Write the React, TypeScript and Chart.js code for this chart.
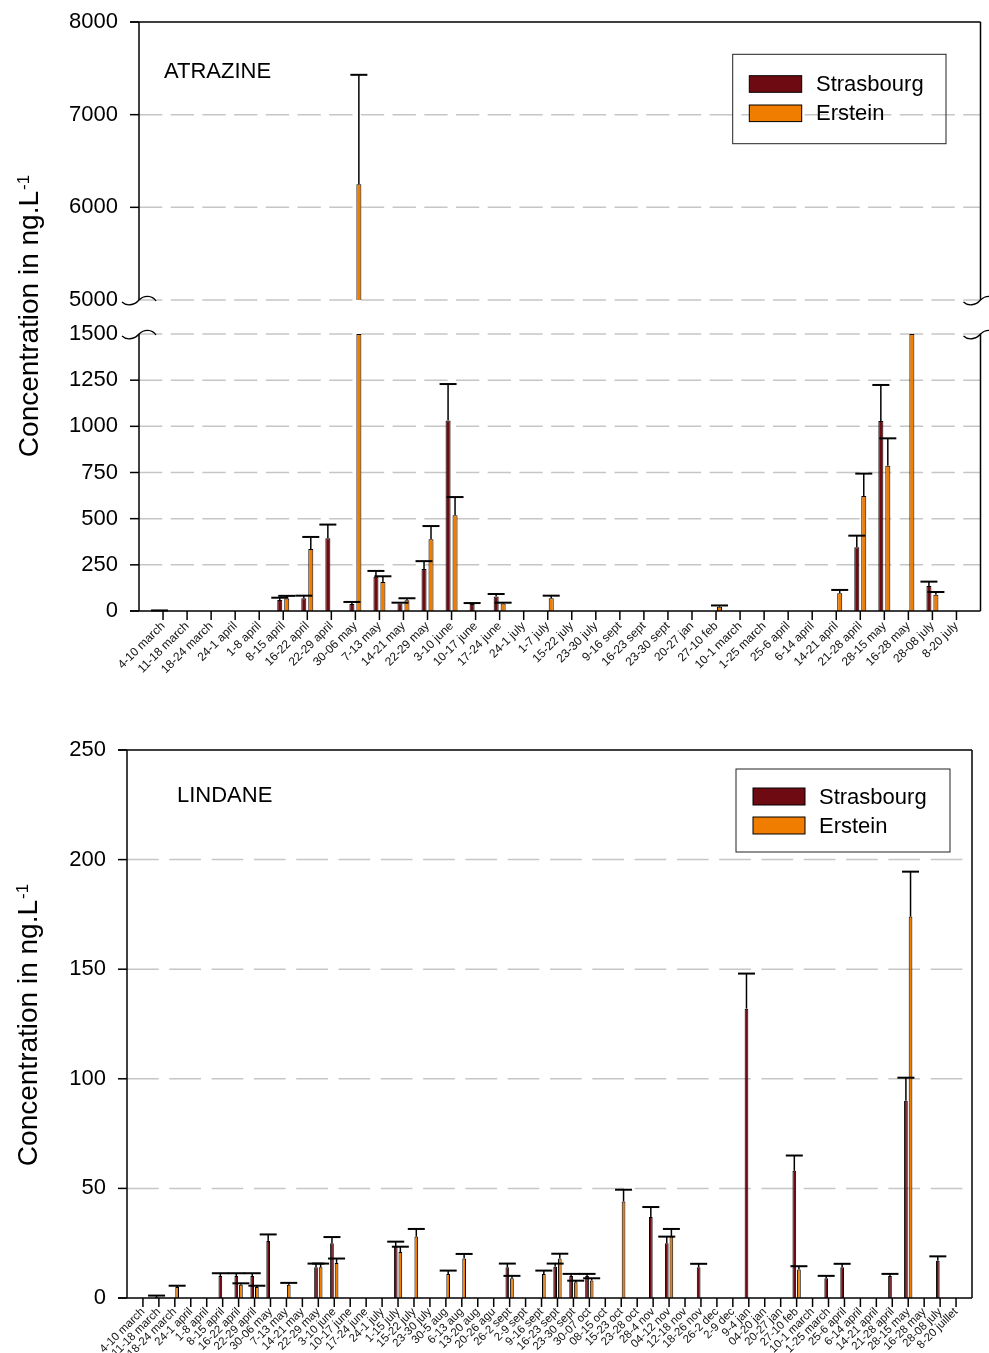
import React, { useEffect, useRef } from 'react';
import { Chart, registerables } from 'chart.js';

Chart.register(...registerables);

const FONT = '"Liberation Sans", Arial, Helvetica, sans-serif';
const STRASBOURG_COLOR = '#6e0a12';
const ERSTEIN_COLOR = '#f07d00';
const GRID_COLOR = '#c6c6c6';

// ---------------- ATRAZINE ----------------
const atrazineLabels = [
  '4-10 march', '11-18 march', '18-24 march', '24-1 april', '1-8 april', '8-15 april', '16-22 april', '22-29 april', '30-06 may', '7-13 may',
  '14-21 may', '22-29 may', '3-10 june', '10-17 june', '17-24 june', '24-1 july', '1-7 july', '15-22 july', '23-30 july', '9-16 sept',
  '16-23 sept', '23-30 sept', '20-27 jan', '27-10 feb', '10-1 march', '1-25 march', '25-6 april', '6-14 april', '14-21 april', '21-28 april',
  '28-15 may', '16-28 may', '28-08 july', '8-20 july',
];
const atrazineStrasbourg = [
  1, null, null, null, null, 60, 69, 394, 38, 186,
  40, 227, 1032, 38, 78, null, null, null, null, null,
  null, null, null, null, null, null, null, null, null, 345,
  1029, null, 135, null,
];
const atrazineStrasbourgErr = [
  2, null, null, null, null, 12, 14, 74, 11, 31,
  5, 43, 197, 5, 14, null, null, null, null, null,
  null, null, null, null, null, null, null, null, null, 63,
  195, null, 24, null,
];
const atrazineErstein = [
  null, null, null, null, null, 68, 336, null, 6250, 157,
  58, 388, 518, null, 40, null, 69, null, null, null,
  null, null, null, 23, null, null, null, null, 96, 623,
  787, 2000, 88, null,
];
const atrazineErsteinErr = [
  null, null, null, null, null, 14, 65, null, 1180, 31,
  11, 72, 99, null, 5, null, 14, null, null, null,
  null, null, null, 7, null, null, null, null, 18, 121,
  148, null, 15, null,
];
const atrazineLowTicks = [0, 250, 500, 750, 1000, 1250, 1500];
const atrazineHighTicks = [5000, 6000, 7000, 8000];

// ---------------- LINDANE ----------------
const lindaneLabels = [
  '4-10 march', '11-18 march', '18-24 march', '24-1 april', '1-8 april', '8-15 april', '16-22 april', '22-29 april', '30-06 may', '7-13 may',
  '14-21 may', '22-29 may', '3-10 june', '10-17 june', '17-24 june', '24-1 july', '1-15 july', '15-22 july', '23-30 july', '30-5 aug',
  '6-13 aug', '13-20 aug', '20-26 agu', '26-2 sept', '2-9 sept', '9-16 sept', '16-23 sept', '23-30 sept', '30-07 oct', '08-15 oct',
  '15-23 oct', '23-28 oct', '28-4 nov', '04-12 nov', '12-18 nov', '18-26 nov', '26-2 dec', '2-9 dec', '9-4 jan', '04-20 jan',
  '20-27 jan', '27-10 feb', '10-1 march', '1-25 march', '25-6 april', '6-14 april', '14-21 april', '21-28 april', '28-15 may', '16-28 may',
  '28-08 july', '8-20 juillet',
];
const lindaneStrasbourg = [
  null, 0.5, null, null, null, 10, 10, 10, 26, null,
  null, 14, 25, null, null, null, 23.4, null, null, null,
  null, null, null, 14, null, null, 14.3, 10, 10, null,
  null, null, 37, 25, null, 14, null, null, 132, null,
  null, 58, null, 9, 14, null, null, 10, 90, null,
  17, null,
];
const lindaneStrasbourgErr = [
  null, 0.6, null, null, null, 1.3, 1.3, 1.3, 3, null,
  null, 1.7, 2.8, null, null, null, 2.3, null, null, null,
  null, null, null, 1.7, null, null, 1.4, 1, 1, null,
  null, null, 4.5, 3, null, 1.6, null, null, 16, null,
  null, 7, null, 1.1, 1.6, null, null, 1, 10.5, null,
  2, null,
];
const lindaneErstein = [
  null, null, 5, null, null, null, 6, 5, null, 6,
  null, 14, 16, null, null, null, 21, 28, null, 11,
  18, null, null, 9, null, 11, 18, 7.2, 8, null,
  44, null, null, 28, null, null, null, null, null, null,
  null, 13, null, null, null, null, null, null, 174, null,
  null, null,
];
const lindaneErsteinErr = [
  null, null, 0.6, null, null, null, 0.7, 0.6, null, 0.9,
  null, 1.7, 2, null, null, null, 2.4, 3.5, null, 1.5,
  2.1, null, null, 1.1, null, 1.5, 2.2, 0.7, 1, null,
  5.4, null, null, 3.5, null, null, null, null, null, null,
  null, 1.5, null, null, null, null, null, null, 20.5, null,
  null, null,
];
const lindaneTicks = [0, 50, 100, 150, 200, 250];

// ---------------- helpers ----------------
type Series = { label: string; color: string; values: (number | null)[]; errors: (number | null)[] };
type AxisVal = { axis: string; value: number };
type Panel = {
  name: string;
  series: Series[];
  pick: (v: number, si: number) => { axis: string; ds: number } | null;
  grid: AxisVal[];
  ticks: AxisVal[];
  segments: { axis: string; from: number; to: number }[];
  breaks: AxisVal[];
  top: AxisVal;
  bottom: AxisVal;
  gridDash: number[];
  namePos: { dx: number; dy: number };
  legend: { dxRight: number; dy: number; w: number; h: number; swX: number; swW: number; swH: number; rows: number[]; textX: number };
  yTitle: { x: number; y: number };
};

const pad = <T,>(arr: T[]): (T | null)[] => [null, ...arr, null];

function tilde(ctx: CanvasRenderingContext2D, x: number, y: number) {
  ctx.beginPath();
  ctx.moveTo(x - 17, y + 2);
  ctx.bezierCurveTo(x - 13, y + 6, x - 5, y + 6, x, y);
  ctx.bezierCurveTo(x + 5, y - 5, x + 13, y - 5, x + 17, y + 1);
  ctx.stroke();
}

function makeDecor(p: Panel) {
  return {
    id: 'decor',
    beforeDatasetsDraw(chart: any) {
      const ctx: CanvasRenderingContext2D = chart.ctx;
      const { left, right } = chart.chartArea;
      ctx.save();
      ctx.strokeStyle = GRID_COLOR;
      ctx.lineWidth = 1.5;
      ctx.setLineDash(p.gridDash);
      for (const g of p.grid) {
        const y = chart.scales[g.axis].getPixelForValue(g.value);
        ctx.beginPath();
        ctx.moveTo(left, y);
        ctx.lineTo(right, y);
        ctx.stroke();
      }
      ctx.restore();
    },
    afterDatasetsDraw(chart: any) {
      const ctx: CanvasRenderingContext2D = chart.ctx;
      const { left, right } = chart.chartArea;
      const xs = chart.scales.x;
      ctx.save();
      ctx.strokeStyle = '#000';
      ctx.lineCap = 'butt';
      // error bars
      p.series.forEach((s, si) => {
        s.values.forEach((v, j) => {
          const e = s.errors[j];
          if (v == null || e == null) return;
          const sel = p.pick(v, si);
          if (!sel) return;
          const el = chart.getDatasetMeta(sel.ds).data[j + 1];
          if (!el) return;
          const sc = chart.scales[sel.axis];
          const y0 = sc.getPixelForValue(v);
          const y1 = sc.getPixelForValue(v + e);
          ctx.lineWidth = 1.5;
          ctx.beginPath();
          ctx.moveTo(el.x, y0);
          ctx.lineTo(el.x, y1);
          ctx.stroke();
          ctx.lineWidth = 2;
          ctx.beginPath();
          ctx.moveTo(el.x - 8.5, y1);
          ctx.lineTo(el.x + 8.5, y1);
          ctx.stroke();
        });
      });
      // frame
      ctx.lineWidth = 1.5;
      for (const sg of p.segments) {
        const sc = chart.scales[sg.axis];
        const ya = sc.getPixelForValue(sg.from);
        const yb = sc.getPixelForValue(sg.to);
        for (const x of [left, right]) {
          ctx.beginPath();
          ctx.moveTo(x, ya);
          ctx.lineTo(x, yb);
          ctx.stroke();
        }
      }
      const yTopLine = chart.scales[p.top.axis].getPixelForValue(p.top.value);
      const yBotLine = chart.scales[p.bottom.axis].getPixelForValue(p.bottom.value);
      ctx.beginPath();
      ctx.moveTo(left - 9, yTopLine);
      ctx.lineTo(right, yTopLine);
      ctx.moveTo(left - 9, yBotLine);
      ctx.lineTo(right, yBotLine);
      ctx.stroke();
      // y tick marks
      for (const t of p.ticks) {
        const y = chart.scales[t.axis].getPixelForValue(t.value);
        ctx.beginPath();
        ctx.moveTo(left - 9, y);
        ctx.lineTo(left, y);
        ctx.stroke();
      }
      // x tick marks
      const n = chart.data.labels.length;
      for (let j = 1; j < n - 1; j++) {
        const x = xs.getPixelForTick(j);
        ctx.beginPath();
        ctx.moveTo(x, yBotLine);
        ctx.lineTo(x, yBotLine + 9);
        ctx.stroke();
      }
      // axis breaks
      ctx.lineWidth = 1.3;
      for (const b of p.breaks) {
        const y = chart.scales[b.axis].getPixelForValue(b.value);
        tilde(ctx, left, y);
        tilde(ctx, right, y);
      }
      // panel name
      ctx.fillStyle = '#000';
      ctx.font = `22px ${FONT}`;
      ctx.textBaseline = 'middle';
      ctx.textAlign = 'left';
      ctx.fillText(p.name, left + p.namePos.dx, chart.chartArea.top + p.namePos.dy);
      // legend
      const L = p.legend;
      const bx = right - L.dxRight - L.w;
      const by = chart.chartArea.top + L.dy;
      ctx.lineWidth = 1;
      ctx.strokeStyle = '#222';
      ctx.strokeRect(bx, by, L.w, L.h);
      p.series.forEach((s, i) => {
        const sy = by + L.rows[i];
        ctx.fillStyle = s.color;
        ctx.fillRect(bx + L.swX, sy, L.swW, L.swH);
        ctx.strokeStyle = '#000';
        ctx.strokeRect(bx + L.swX, sy, L.swW, L.swH);
        ctx.fillStyle = '#000';
        ctx.font = `22px ${FONT}`;
        ctx.fillText(s.label, bx + L.textX, sy + L.swH / 2 + 1);
      });
      // y title with superscript
      const main = 'Concentration in ng.L';
      const sup = '-1';
      ctx.translate(p.yTitle.x, p.yTitle.y);
      ctx.rotate(-Math.PI / 2);
      ctx.textBaseline = 'alphabetic';
      ctx.font = `28px ${FONT}`;
      const wm = ctx.measureText(main).width;
      ctx.font = `17px ${FONT}`;
      const ws = ctx.measureText(sup).width;
      const x0 = -(wm + ws + 1) / 2;
      ctx.font = `28px ${FONT}`;
      ctx.fillText(main, x0, 0);
      ctx.font = `17px ${FONT}`;
      ctx.fillText(sup, x0 + wm + 1, -9);
      ctx.restore();
    },
  };
}

function barDataset(s: Series, data: any[], yAxisID: string, barPercentage: number) {
  return {
    label: s.label,
    data,
    yAxisID,
    stack: s.label,
    backgroundColor: s.color,
    borderColor: '#000',
    borderWidth: 1,
    categoryPercentage: 0.58,
    barPercentage,
  };
}

const xScale = (height: number, fontSize: number, padding: number) => ({
  type: 'category',
  offset: false,
  grid: { display: false, drawTicks: false },
  border: { display: false },
  ticks: {
    autoSkip: false,
    maxRotation: 45,
    minRotation: 45,
    padding,
    color: '#111',
    font: { family: FONT, size: fontSize },
  },
  afterFit: (s: any) => {
    s.height = height;
    s.paddingLeft = 0;
    s.paddingRight = 0;
  },
});

const yTicksOpts = {
  padding: 21,
  color: '#000',
  autoSkip: false,
  font: { family: FONT, size: 22 },
  callback: (v: any) => String(v),
};

const yFit = (width: number) => (s: any) => {
  s.width = width;
  s.paddingTop = 0;
  s.paddingBottom = 0;
};

function atrazineConfig(): any {
  const LOW_MAX = atrazineLowTicks[atrazineLowTicks.length - 1];
  const HIGH_MIN = atrazineHighTicks[0];
  const HIGH_MAX = atrazineHighTicks[atrazineHighTicks.length - 1];
  // pixel heights of the two parts of the broken axis and of the gap between
  const topPx = 278, botPx = 277, gapPx = 34;
  const series: Series[] = [
    { label: 'Strasbourg', color: STRASBOURG_COLOR, values: atrazineStrasbourg, errors: atrazineStrasbourgErr },
    { label: 'Erstein', color: ERSTEIN_COLOR, values: atrazineErstein, errors: atrazineErsteinErr },
  ];
  const low = (v: number | null) => (v == null ? null : Math.min(v, LOW_MAX));
  const high = (v: number | null) => (v != null && v > HIGH_MIN ? [HIGH_MIN, v] : null);
  const datasets = [
    ...series.map((s) => barDataset(s, pad(s.values.map(low)), 'yBot', 0.72)),
    ...series.map((s) => barDataset(s, pad(s.values.map(high)), 'yTop', 0.72)),
  ];
  const panel: Panel = {
    name: 'ATRAZINE',
    series,
    pick: (v, si) => (v > HIGH_MIN ? { axis: 'yTop', ds: 2 + si } : v <= LOW_MAX ? { axis: 'yBot', ds: si } : null),
    grid: [
      ...atrazineHighTicks.slice(0, -1).map((value) => ({ axis: 'yTop', value })),
      ...atrazineLowTicks.slice(1).map((value) => ({ axis: 'yBot', value })),
    ],
    ticks: [
      ...atrazineHighTicks.slice(1).map((value) => ({ axis: 'yTop', value })),
      ...atrazineLowTicks.slice(0, -1).map((value) => ({ axis: 'yBot', value })),
    ],
    segments: [
      { axis: 'yTop', from: HIGH_MIN, to: HIGH_MAX },
      { axis: 'yBot', from: 0, to: LOW_MAX },
    ],
    breaks: [
      { axis: 'yTop', value: HIGH_MIN },
      { axis: 'yBot', value: LOW_MAX },
    ],
    top: { axis: 'yTop', value: HIGH_MAX },
    bottom: { axis: 'yBot', value: 0 },
    gridDash: [23.3, 8.4],
    namePos: { dx: 25, dy: 50 },
    legend: { dxRight: 34.5, dy: 32.3, w: 213.3, h: 89.4, swX: 16.6, swW: 52.4, swH: 16.6, rows: [21.4, 50.7], textX: 83.3 },
    yTitle: { x: 38, y: 316 },
  };
  return {
    type: 'bar',
    data: { labels: ['', ...atrazineLabels, ''], datasets },
    plugins: [makeDecor(panel)],
    options: {
      responsive: false,
      animation: false,
      events: [],
      layout: { padding: { top: 22, right: 8.5, left: 0, bottom: 0 } },
      plugins: { legend: { display: false }, tooltip: { enabled: false } },
      scales: {
        x: xScale(79, 12, 8),
        yBot: {
          type: 'linear',
          position: 'left',
          stack: 'atr',
          stackWeight: botPx + gapPx / 2,
          weight: 0,
          stacked: false,
          min: 0,
          max: LOW_MAX + (LOW_MAX * (gapPx / 2)) / botPx,
          afterBuildTicks: (s: any) => { s.ticks = atrazineLowTicks.map((value) => ({ value })); },
          grid: { display: false, drawTicks: false },
          border: { display: false },
          ticks: yTicksOpts,
          afterFit: yFit(139),
        },
        yTop: {
          type: 'linear',
          position: 'left',
          stack: 'atr',
          stackWeight: topPx + gapPx / 2,
          weight: 1,
          stacked: false,
          min: HIGH_MIN - ((HIGH_MAX - HIGH_MIN) * (gapPx / 2)) / topPx,
          max: HIGH_MAX,
          afterBuildTicks: (s: any) => { s.ticks = atrazineHighTicks.map((value) => ({ value })); },
          grid: { display: false, drawTicks: false },
          border: { display: false },
          ticks: yTicksOpts,
          afterFit: yFit(139),
        },
      },
    },
  };
}

function lindaneConfig(): any {
  const MAX = lindaneTicks[lindaneTicks.length - 1];
  const series: Series[] = [
    { label: 'Strasbourg', color: STRASBOURG_COLOR, values: lindaneStrasbourg, errors: lindaneStrasbourgErr },
    { label: 'Erstein', color: ERSTEIN_COLOR, values: lindaneErstein, errors: lindaneErsteinErr },
  ];
  const datasets = series.map((s) => barDataset(s, pad(s.values), 'y', 0.8));
  const panel: Panel = {
    name: 'LINDANE',
    series,
    pick: (_v, si) => ({ axis: 'y', ds: si }),
    grid: lindaneTicks.slice(1, -1).map((value) => ({ axis: 'y', value })),
    ticks: lindaneTicks.map((value) => ({ axis: 'y', value })),
    segments: [{ axis: 'y', from: 0, to: MAX }],
    breaks: [],
    top: { axis: 'y', value: MAX },
    bottom: { axis: 'y', value: 0 },
    gridDash: [31.7, 10.6],
    namePos: { dx: 50, dy: 46 },
    legend: { dxRight: 22, dy: 19, w: 214, h: 83, swX: 17, swW: 52, swH: 17, rows: [19, 48], textX: 83 },
    yTitle: { x: 37, y: 335 },
  };
  return {
    type: 'bar',
    data: { labels: ['', ...lindaneLabels, ''], datasets },
    plugins: [makeDecor(panel)],
    options: {
      responsive: false,
      animation: false,
      events: [],
      layout: { padding: { top: 60, right: 17, left: 0, bottom: 0 } },
      plugins: { legend: { display: false }, tooltip: { enabled: false } },
      scales: {
        x: xScale(55, 11.5, 7),
        y: {
          type: 'linear',
          position: 'left',
          stacked: false,
          min: 0,
          max: MAX,
          afterBuildTicks: (s: any) => { s.ticks = lindaneTicks.map((value) => ({ value })); },
          grid: { display: false, drawTicks: false },
          border: { display: false },
          ticks: yTicksOpts,
          afterFit: yFit(127),
        },
      },
    },
  };
}

export default function App() {
  const c1 = useRef<HTMLCanvasElement>(null);
  const c2 = useRef<HTMLCanvasElement>(null);
  useEffect(() => {
    const a = new Chart(c1.current as HTMLCanvasElement, atrazineConfig());
    const b = new Chart(c2.current as HTMLCanvasElement, lindaneConfig());
    return () => {
      a.destroy();
      b.destroy();
    };
  }, []);
  return (
    <div style={{ position: 'absolute', left: 0, top: 0, width: 989, height: 1353, background: '#fff' }}>
      <canvas ref={c1} width={989} height={690} style={{ position: 'absolute', left: 0, top: 0, width: 989, height: 690 }} />
      <canvas ref={c2} width={989} height={663} style={{ position: 'absolute', left: 0, top: 690, width: 989, height: 663 }} />
    </div>
  );
}
